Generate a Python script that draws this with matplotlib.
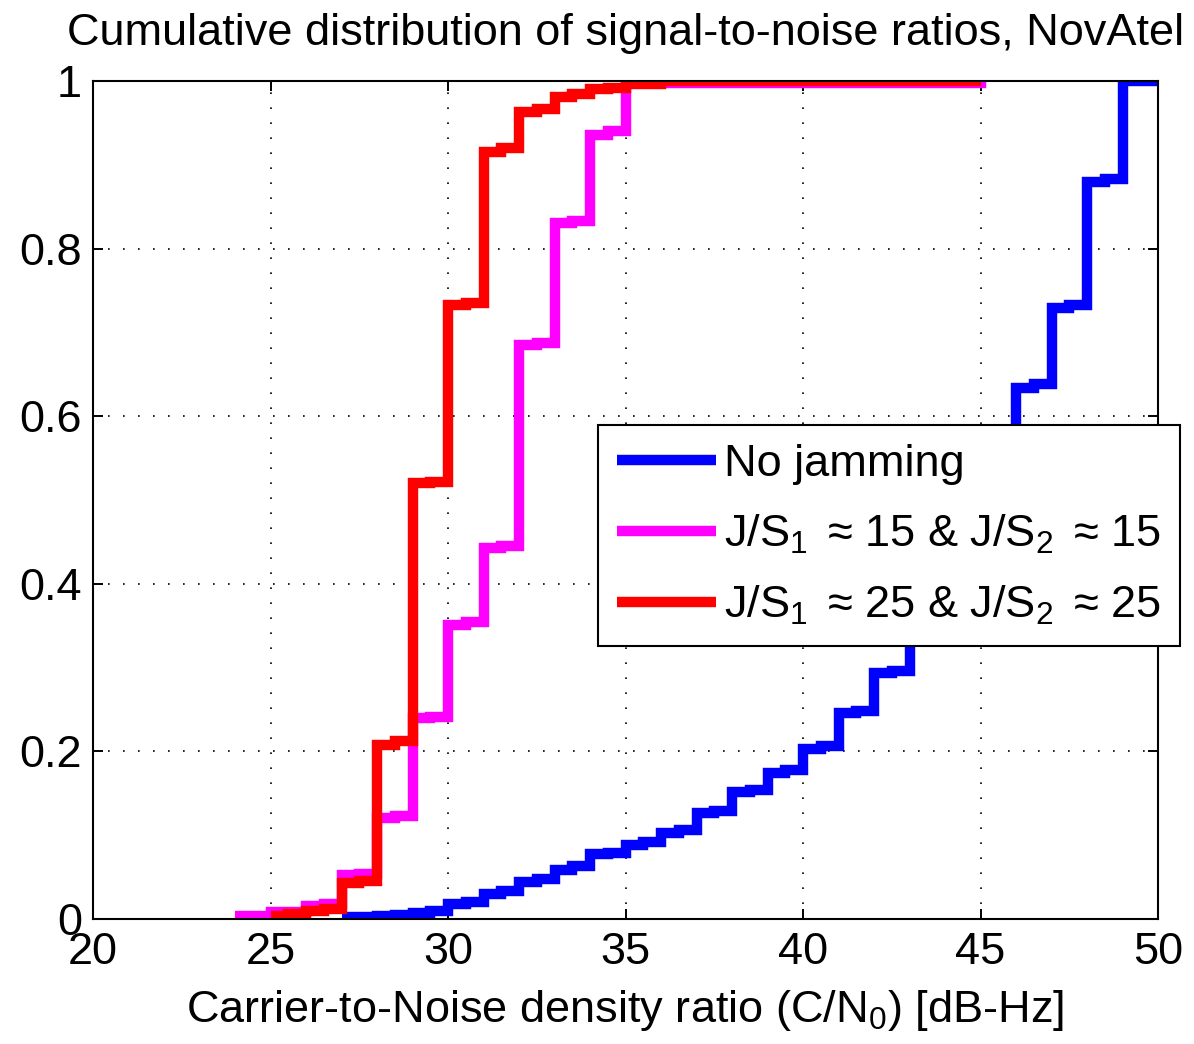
import matplotlib
matplotlib.use("Agg")
import matplotlib.pyplot as plt

plt.rcParams['font.family'] = ['Liberation Sans', 'DejaVu Sans']
plt.rcParams['mathtext.fontset'] = 'custom'
plt.rcParams['mathtext.rm'] = 'Liberation Sans'
plt.rcParams['mathtext.it'] = 'Liberation Sans:italic'
plt.rcParams['mathtext.default'] = 'regular'

# ---- data (step edges, CDF values) ----
blue_x = [27, 28, 28.5, 29, 29.5, 30, 30.5, 31, 31.5, 32, 32.5, 33, 33.5, 34, 34.5,
          35, 35.5, 36, 36.5, 37, 37.5, 38, 38.5, 39, 39.5, 40, 40.5, 41, 41.5, 42,
          42.5, 43, 43.5, 44, 44.5, 45, 45.5, 46, 46.5, 47, 47.5, 48, 48.5, 49, 50]
blue_y = [0.002, 0.004, 0.005, 0.007, 0.010, 0.018, 0.020, 0.030, 0.034, 0.044, 0.048,
          0.059, 0.063, 0.077, 0.079, 0.088, 0.092, 0.103, 0.106, 0.126, 0.129, 0.152,
          0.154, 0.174, 0.178, 0.203, 0.207, 0.246, 0.248, 0.293, 0.296, 0.36, 0.365,
          0.45, 0.455, 0.54, 0.545, 0.634, 0.638, 0.729, 0.733, 0.879, 0.883, 1.0, 1.0]

mag_x = [24, 25, 26, 26.5, 27, 27.5, 28, 28.5, 29, 29.5, 30, 30.5, 31, 31.5, 32, 32.5,
         33, 33.5, 34, 34.5, 35, 45]
mag_y = [0.004, 0.008, 0.015, 0.018, 0.052, 0.054, 0.121, 0.123, 0.240, 0.241, 0.351,
         0.355, 0.443, 0.445, 0.685, 0.687, 0.830, 0.833, 0.935, 0.940, 0.998, 1.0]

red_x = [25, 25.5, 26, 26.5, 27, 27.5, 28, 28.5, 29, 29.5, 30, 30.5, 31, 31.5, 32, 32.5,
         33, 33.5, 34, 34.5, 35, 36, 45]
red_y = [0.003, 0.006, 0.009, 0.012, 0.043, 0.045, 0.208, 0.213, 0.520, 0.522, 0.733,
         0.735, 0.915, 0.920, 0.963, 0.967, 0.981, 0.985, 0.990, 0.992, 0.996, 1.0, 1.0]

labels = ['No jamming',
          r'J/S$_1\,$ ≈ 15 & J/S$_2\,$ ≈ 15',
          r'J/S$_1\,$ ≈ 25 & J/S$_2\,$ ≈ 25']
colors = ['#0000ff', '#ff00ff', '#ff0000']

xticks = [20, 25, 30, 35, 40, 45, 50]
yticks = [0, 0.2, 0.4, 0.6, 0.8, 1.0]
yticklabels = ['0', '0.2', '0.4', '0.6', '0.8', '1']

fs = 32.5

fig = plt.figure(figsize=(11.94, 10.44), dpi=100)
ax = fig.add_axes([93/1194, 1-919/1044, (1158-93)/1194, (919-81)/1044])

lw = 7.5
for xs, ys, c, lab in [(blue_x, blue_y, colors[0], labels[0]),
                       (mag_x, mag_y, colors[1], labels[1]),
                       (red_x, red_y, colors[2], labels[2])]:
    ax.step(xs, ys, where='post', color=c, lw=lw, label=lab,
            solid_joinstyle='miter', solid_capstyle='butt')

ax.set_xlim(20, 50)
ax.set_ylim(0, 1)
ax.set_xticks(xticks)
ax.set_xticklabels([str(t) for t in xticks])
ax.set_yticks(yticks)
ax.set_yticklabels(yticklabels)
ax.tick_params(direction='in', length=7, width=1.4, top=True, right=True,
               labelsize=fs, colors='black')
ax.tick_params(axis='x', pad=9)
ax.tick_params(axis='y', pad=8)
ax.grid(True, color='black', linestyle=(0, (1, 8)), linewidth=1.2)
for s in ax.spines.values():
    s.set_linewidth(1.5)
    s.set_color('black')

ax.set_title('Cumulative distribution of signal-to-noise ratios, NovAtel',
             fontsize=fs, pad=26)
ax.set_xlabel(r'Carrier-to-Noise density ratio (C/N$_0$) [dB-Hz]', fontsize=fs,
              labelpad=11)

leg = ax.legend(loc='upper left', bbox_to_anchor=(598/1194, 1-425/1044),
                bbox_transform=fig.transFigure, borderaxespad=0, fontsize=fs,
                fancybox=False, framealpha=1, edgecolor='black',
                handlelength=2.2, handletextpad=0.18, borderpad=0.42,
                labelspacing=0.62)
leg.get_frame().set_linewidth(1.5)

fig.savefig('out.png', dpi=100)
